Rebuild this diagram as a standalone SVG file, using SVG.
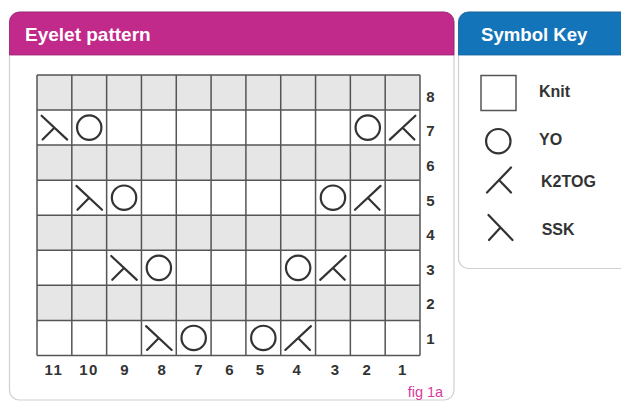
<svg xmlns="http://www.w3.org/2000/svg" xmlns:xlink="http://www.w3.org/1999/xlink" width="621" height="401" viewBox="0 0 621 401">
<style>
.panel{fill:#ffffff;stroke:#cfcfcf;stroke-width:1.2}
.hdr-text{font-family:"Liberation Sans",Arial,sans-serif;font-weight:bold;fill:#ffffff}
.gray{fill:#e6e6e6}
.grid{stroke:#555555;stroke-width:1.5;fill:none}
.sym{stroke:#333333;stroke-width:2.2;fill:none;stroke-linecap:round}
.num{font-family:"Liberation Sans",Arial,sans-serif;font-weight:bold;font-size:15px;fill:#333333;text-anchor:middle}
.key{font-family:"Liberation Sans",Arial,sans-serif;font-weight:bold;font-size:16px;fill:#333333}
.fig{font-family:"Liberation Sans",Arial,sans-serif;font-size:14.5px;fill:#d63ca0}
</style>
<defs>
<circle id="yo" class="sym" cx="0" cy="0" r="12.2"/>
<path id="ssk" class="sym" d="M-12.8,-11.8 L12.8,12 M0,0.1 L-11.8,12"/>
<path id="k2tog" class="sym" d="M12.8,-11.8 L-12.8,12 M0,0.1 L11.8,12"/>
</defs>

<g id="chart-panel">
<rect class="panel" x="9.5" y="12" width="444.5" height="388" rx="10"/>
<path d="M9.5,55 V22 A10,10 0 0 1 19.5,12 H444 A10,10 0 0 1 454,22 V55 Z" fill="#c1298a" stroke="#9a1f6e" stroke-width="0.8"/>
<text class="hdr-text" x="25" y="40.7" font-size="19">Eyelet pattern</text>
</g>

<g id="key-panel">
<rect class="panel" x="458.5" y="12" width="220" height="256.5" rx="10"/>
<path d="M458.5,55 V22 A10,10 0 0 1 468.5,12 H680 V55 Z" fill="#1474ba" stroke="#0f5f9a" stroke-width="0.8"/>
<text class="hdr-text" x="481" y="40.7" font-size="18.6">Symbol Key</text>
</g>

<g id="chart-grid">
<rect class="gray" x="37" y="75" width="383" height="35.06"/>
<rect class="gray" x="37" y="145.12" width="383" height="35.06"/>
<rect class="gray" x="37" y="215.24" width="383" height="35.06"/>
<rect class="gray" x="37" y="285.36" width="383" height="35.06"/>
<path class="grid" d="M37,75 V355.48 M71.82,75 V355.48 M106.64,75 V355.48 M141.45,75 V355.48 M176.27,75 V355.48 M211.09,75 V355.48 M245.91,75 V355.48 M280.73,75 V355.48 M315.55,75 V355.48 M350.36,75 V355.48 M385.18,75 V355.48 M420,75 V355.48 M37,75 H420 M37,110.06 H420 M37,145.12 H420 M37,180.18 H420 M37,215.24 H420 M37,250.30 H420 M37,285.36 H420 M37,320.42 H420 M37,355.48 H420"/>
</g>

<g id="chart-symbols">
<use xlink:href="#ssk" href="#ssk" x="54.41" y="127.59"/>
<use xlink:href="#yo" href="#yo" x="89.23" y="127.59"/>
<use xlink:href="#yo" href="#yo" x="367.77" y="127.59"/>
<use xlink:href="#k2tog" href="#k2tog" x="402.59" y="127.59"/>

<use xlink:href="#ssk" href="#ssk" x="89.23" y="197.71"/>
<use xlink:href="#yo" href="#yo" x="124.05" y="197.71"/>
<use xlink:href="#yo" href="#yo" x="332.95" y="197.71"/>
<use xlink:href="#k2tog" href="#k2tog" x="367.77" y="197.71"/>

<use xlink:href="#ssk" href="#ssk" x="124.05" y="267.83"/>
<use xlink:href="#yo" href="#yo" x="158.86" y="267.83"/>
<use xlink:href="#yo" href="#yo" x="298.14" y="267.83"/>
<use xlink:href="#k2tog" href="#k2tog" x="332.95" y="267.83"/>

<use xlink:href="#ssk" href="#ssk" x="158.86" y="337.95"/>
<use xlink:href="#yo" href="#yo" x="193.68" y="337.95"/>
<use xlink:href="#yo" href="#yo" x="263.32" y="337.95"/>
<use xlink:href="#k2tog" href="#k2tog" x="298.14" y="337.95"/>
</g>

<g id="row-numbers">
<text class="num" x="430.5" y="101.7">8</text>
<text class="num" x="430.5" y="136.3">7</text>
<text class="num" x="430.5" y="170.9">6</text>
<text class="num" x="430.5" y="205.6">5</text>
<text class="num" x="430.5" y="240.2">4</text>
<text class="num" x="430.5" y="274.8">3</text>
<text class="num" x="430.5" y="309.4">2</text>
<text class="num" x="430.5" y="344">1</text>
</g>

<g id="column-numbers">
<text class="num" x="54" y="375" letter-spacing="1.5">11</text>
<text class="num" x="89" y="375" letter-spacing="1.5">10</text>
<text class="num" x="124.3" y="375">9</text>
<text class="num" x="161.7" y="375">8</text>
<text class="num" x="198.3" y="375">7</text>
<text class="num" x="229.3" y="375">6</text>
<text class="num" x="260" y="375">5</text>
<text class="num" x="296.7" y="375">4</text>
<text class="num" x="335" y="375">3</text>
<text class="num" x="366.7" y="375">2</text>
<text class="num" x="402.2" y="375">1</text>
</g>

<text id="fig-label" class="fig" x="407.7" y="397">fig 1a</text>

<g id="key-knit">
<rect x="481" y="75.5" width="35" height="35" fill="#ffffff" stroke="#555555" stroke-width="1.5"/>
<text class="key" x="539" y="96.7">Knit</text>
</g>
<g id="key-yo">
<use xlink:href="#yo" href="#yo" x="498.3" y="141.2"/>
<text class="key" x="539" y="145">YO</text>
</g>
<g id="key-k2tog">
<path class="sym" d="M511,167.5 L487,192.5 M499,180 L511,192.5"/>
<text class="key" x="541" y="187.3">K2TOG</text>
</g>
<g id="key-ssk">
<path class="sym" d="M488.5,215 L512.5,240 M500.5,227.5 L489,240"/>
<text class="key" x="541.7" y="235">SSK</text>
</g>
</svg>
